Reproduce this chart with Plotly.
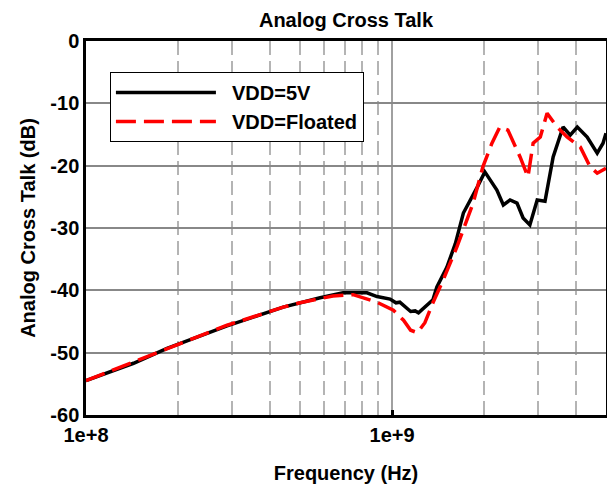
import plotly.graph_objects as go

# frequency (Hz) and cross talk (dB)
freq_5v = [1.00e8, 1.43e8, 1.84e8, 2.89e8, 4.41e8, 5.00e8, 5.82e8, 6.92e8, 8.28e8,
           8.93e8, 9.85e8, 1.03e9, 1.06e9, 1.15e9, 1.19e9, 1.22e9, 1.31e9, 1.36e9,
           1.40e9, 1.51e9, 1.61e9, 1.71e9, 1.90e9, 2.01e9, 2.20e9, 2.31e9, 2.43e9,
           2.56e9, 2.68e9, 2.82e9, 2.98e9, 3.16e9, 3.36e9, 3.62e9, 3.82e9, 4.03e9,
           4.34e9, 4.68e9, 4.89e9, 5.00e9]
db_5v = [-54.5, -51.7, -49.3, -45.7, -42.7, -42.0, -41.2, -40.4, -40.4,
         -41.0, -41.4, -42.0, -41.9, -43.4, -43.3, -43.6, -42.2, -41.5,
         -39.5, -36.3, -32.5, -27.6, -23.4, -21.0, -23.9, -26.3, -25.5,
         -26.0, -28.4, -29.5, -25.5, -25.7, -18.6, -13.8, -15.1, -13.8,
         -15.4, -18.0, -16.4, -14.8]

freq_float = [1.00e8, 1.43e8, 1.84e8, 2.89e8, 4.41e8, 5.00e8, 6.41e8, 7.46e8, 8.93e8,
              1.01e9, 1.09e9, 1.15e9, 1.21e9, 1.28e9, 1.36e9, 1.47e9, 1.63e9, 1.84e9,
              1.98e9, 2.12e9, 2.25e9, 2.39e9, 2.62e9, 2.78e9, 2.89e9, 3.05e9, 3.21e9,
              3.46e9, 3.73e9, 4.12e9, 4.44e9, 4.68e9, 5.00e9]
db_float = [-54.5, -51.5, -49.3, -45.6, -42.7, -42.0, -40.9, -40.7, -41.9,
            -43.2, -44.8, -46.4, -46.8, -45.2, -42.0, -38.3, -33.0, -26.0,
            -20.2, -16.4, -13.8, -14.3, -18.6, -21.8, -16.4, -15.4, -11.6,
            -13.8, -15.4, -17.0, -20.2, -21.2, -20.4]

x_major = [1e8, 1e9]
x_major_text = ["1e+8", "1e+9"]
x_minor = [2e8, 3e8, 4e8, 5e8, 6e8, 7e8, 8e8, 9e8, 2e9, 3e9, 4e9]
y_ticks = [0, -10, -20, -30, -40, -50, -60]
y_tick_text = ["0", "-10", "-20", "-30", "-40", "-50", "-60"]

font = "Liberation Sans, Arial, sans-serif"
bold = dict(size=20, weight="bold")
pad = "\u00a0\u00a0"  # a little room between legend line and its text

fig = go.Figure()
fig.add_trace(go.Scatter(
    x=freq_5v, y=db_5v, mode="lines", name=pad + "VDD=5V",
    line=dict(color="black", width=3.5),
))
fig.add_trace(go.Scatter(
    x=freq_float, y=db_float, mode="lines", name=pad + "VDD=Floated",
    line=dict(color="#ff0000", width=3.5, dash="20px,8px"),
))

fig.update_layout(
    width=607,
    height=488,
    margin=dict(l=86, r=1, t=41, b=73, autoexpand=False),
    paper_bgcolor="white",
    plot_bgcolor="white",
    font=dict(family=font, color="black"),
    title=dict(text="Analog Cross Talk", x=346 / 607, xanchor="center",
               y=1 - 20 / 488, yanchor="middle", font=bold),
    xaxis=dict(
        type="log",
        range=[8, 9.699],
        tickvals=x_major,
        ticktext=x_major_text,
        ticks="inside",
        ticklen=5,
        tickwidth=3,
        tickcolor="black",
        tickfont=bold,
        showgrid=True,
        gridcolor="#a0a0a0",
        gridwidth=1.5,
        showline=True,
        linecolor="black",
        linewidth=2.5,
        mirror=True,
        minor=dict(tickvals=x_minor, showgrid=True, gridcolor="#b4b4b4",
                   griddash="14px,6px", gridwidth=1.5, ticks=""),
        title=dict(text="Frequency (Hz)", font=bold, standoff=22),
        zeroline=False,
    ),
    yaxis=dict(
        range=[-60, 0],
        tickvals=y_ticks,
        ticktext=y_tick_text,
        tickfont=bold,
        showgrid=True,
        gridcolor="#888888",
        gridwidth=1.5,
        showline=True,
        linecolor="black",
        linewidth=2.5,
        mirror=True,
        zeroline=False,
        title=dict(text="Analog Cross Talk (dB)", font=bold, standoff=10),
    ),
    legend=dict(
        x=0.046, y=0.917, xanchor="left", yanchor="top",
        bgcolor="white", bordercolor="black", borderwidth=1,
        font=bold, itemwidth=100,
    ),
)

# drop the default body margin so the figure sits at the window's corner
fig.write_html(
    "out.html",
    config={"displayModeBar": False},
    post_script="document.body.style.margin='0';document.body.style.overflow='hidden';",
)
